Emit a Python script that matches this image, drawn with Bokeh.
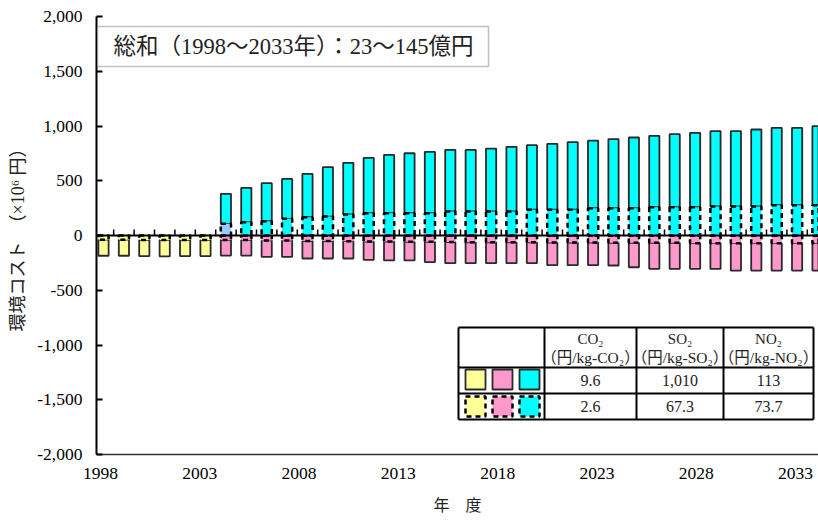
from bokeh.plotting import figure
from bokeh.models import Range1d, LinearAxis, FixedTicker, NumeralTickFormatter, Span, BoxAnnotation, Label
from bokeh.core.properties import value
from bokeh.embed import file_html
from bokeh.resources import INLINE

# ---------------- data ----------------
years = list(range(1998, 2034))
tick_years = [1998, 2003, 2008, 2013, 2018, 2023, 2028, 2033]

co2_years = list(range(1998, 2004))
co2_low = [-38, -38, -40, -40, -40, -40]
co2_high = [-185, -185, -188, -190, -188, -188]

gas_years = list(range(2004, 2034))
so2_low = [-40, -40, -45, -45, -50, -50, -52, -55, -55, -58, -58, -60, -62, -62, -62, -62,
           -65, -65, -65, -67, -67, -67, -67, -70, -70, -70, -70, -70, -70, -70]
so2_high = [-183, -183, -195, -195, -210, -210, -210, -222, -228, -228, -243, -253, -253, -253,
            -253, -253, -271, -271, -271, -274, -290, -304, -304, -304, -304, -320, -320, -320,
            -320, -320]
no2_low = [107, 122, 131, 152, 167, 173, 192, 204, 204, 204, 204, 219, 219, 219, 219, 235,
           235, 235, 249, 249, 249, 258, 258, 258, 265, 265, 265, 277, 277, 277]
no2_high = [381, 435, 478, 517, 563, 624, 664, 709, 737, 751, 764, 782, 782, 794, 810, 825,
            837, 852, 867, 881, 895, 910, 925, 938, 953, 953, 968, 983, 983, 998]

legend_gases = ["CO₂", "SO₂", "NO₂"]
legend_units = ["（円/kg-CO₂）", "（円/kg-SO₂）", "（円/kg-NO₂）"]
price_high = ["9.6", "1,010", "113"]
price_low = ["2.6", "67.3", "73.7"]
summary_text = "総和（1998～2033年）：23～145億円"
y_title = "環境コスト　（×10⁶ 円）"
x_title = "年　度"

# ---------------- styles / layout ----------------
YELLOW, PINK, CYAN = "#FFFF99", "#FF99CC", "#00FFFF"
FONT = "Liberation Serif, Noto Sans CJK JP"
W, H = 818, 522
BL, BT, BR, BB = 96, 16, 0, 68
FL, FT = BL, BT
FW, FH = W - BL - BR, H - BT - BB

XS = 1998 - 7 / 20.4
XE = XS + FW / 20.4
LS = 1998 - 4 / 19.857
LE = LS + FW / 19.857
YS, YE = -2000, 2000


def dx(px):
    return XS + (px - FL) / FW * (XE - XS)


def dy(py):
    return YE - (py - FT) / FH * (YE - YS)


p = figure(width=W, height=H, output_backend="svg", toolbar_location=None,
           x_range=Range1d(XS, XE), y_range=Range1d(YS, YE), x_axis_location=None,
           min_border_left=BL, min_border_right=BR, min_border_top=BT, min_border_bottom=BB)
p.outline_line_color = None
p.grid.grid_line_color = None
p.background_fill_color = "white"
p.border_fill_color = "white"

# y axis
ya = p.yaxis[0]
ya.ticker = FixedTicker(ticks=list(range(-2000, 2001, 500)))
ya.formatter = NumeralTickFormatter(format="0,0")
ya.major_tick_in = 6
ya.major_tick_out = 0
ya.minor_tick_line_color = None
ya.axis_line_width = 2
ya.major_tick_line_width = 2
ya.axis_line_color = "black"
ya.major_label_standoff = 14
ya.major_label_text_font = FONT
ya.major_label_text_font_size = "17.5px"
ya.major_label_text_color = "black"
ya.axis_label = y_title
ya.axis_label_text_font = FONT
ya.axis_label_text_font_size = "18px"
ya.axis_label_text_font_style = "normal"
ya.axis_label_text_color = "#222222"
ya.axis_label_standoff = 6

# x axis (category labels)
p.extra_x_ranges = {"lbl": Range1d(LS, LE)}
xa = LinearAxis(x_range_name="lbl", ticker=FixedTicker(ticks=tick_years))
xa.major_tick_in = 0
xa.major_tick_out = 0
xa.minor_tick_line_color = None
xa.axis_line_width = 1.5
xa.axis_line_color = "#333333"
xa.major_label_standoff = 13
xa.major_label_text_font = FONT
xa.major_label_text_font_size = "17.5px"
xa.major_label_text_color = "black"
xa.axis_label = x_title
xa.axis_label_text_font = FONT
xa.axis_label_text_font_size = "16px"
xa.axis_label_text_font_style = "normal"
xa.axis_label_text_color = "#222222"
xa.axis_label_standoff = 15
p.add_layout(xa, "below")

# ---------------- bars ----------------
BW = 0.5
SOLID = dict(line_color="#2a2a2a", line_width=1.8)
DASH = dict(line_color="black", line_width=2.5, line_dash="5 4")

p.vbar(x=co2_years, width=BW, bottom=co2_high, top=co2_low, fill_color=YELLOW, **SOLID)
p.vbar(x=co2_years, width=BW, bottom=co2_low, top=0, fill_color=YELLOW, **DASH)

p.vbar(x=gas_years, width=BW, bottom=so2_high, top=so2_low, fill_color=PINK, **SOLID)
p.vbar(x=gas_years, width=BW, bottom=so2_low, top=0, fill_color=PINK, **DASH)

no2_low_colors = ["#99CCFF"] + [CYAN] * (len(gas_years) - 1)
p.vbar(x=gas_years, width=BW, bottom=no2_low, top=no2_high, fill_color=CYAN, **SOLID)
p.vbar(x=gas_years, width=BW, bottom=0, top=no2_low, fill_color=no2_low_colors, **DASH)

# zero line with category tick marks
p.add_layout(Span(location=0, dimension="width", line_color="black", line_width=2))
bx = [y + 0.5 for y in years]
p.segment(x0=bx, y0=[0] * len(bx), x1=bx, y1=[55] * len(bx), line_color="black", line_width=1.5)

# ---------------- summary box ----------------
p.add_layout(BoxAnnotation(left=dx(97), right=dx(488), top=dy(26), bottom=dy(66),
                           fill_color="white", fill_alpha=1, line_color="#333333", line_width=1.5))
p.add_layout(Label(x=dx(293), y=dy(46), text=summary_text, text_align="center",
                   text_baseline="middle", text_font=FONT, text_font_size="22.5px",
                   text_color="#222222"))

# ---------------- legend table ----------------
cols = [458, 544, 636, 723, 813]
rows = [327, 367, 393, 419]
p.quad(left=dx(cols[0]), right=dx(cols[-1]), top=dy(rows[0]), bottom=dy(rows[-1]),
       fill_color="white", line_color=None)
p.segment(x0=[dx(cols[0])] * len(rows), x1=[dx(cols[-1])] * len(rows),
          y0=[dy(r) for r in rows], y1=[dy(r) for r in rows], line_color="black", line_width=2)
p.segment(x0=[dx(c) for c in cols], x1=[dx(c) for c in cols],
          y0=[dy(rows[0])] * len(cols), y1=[dy(rows[-1])] * len(cols), line_color="black", line_width=2)

ccx = [dx((cols[i] + cols[i + 1]) / 2) for i in range(1, 4)]
p.text(x=ccx, y=[dy(338)] * 3, text=legend_gases, text_align="center", text_baseline="middle",
       text_font=value(FONT), text_font_size="15px", text_color="#222222")
p.text(x=ccx, y=[dy(357)] * 3, text=legend_units, text_align="center", text_baseline="middle",
       text_font=value(FONT), text_font_size="15.5px", text_color="#222222")
p.text(x=ccx, y=[dy(380)] * 3, text=price_high, text_align="center", text_baseline="middle",
       text_font=value(FONT), text_font_size="16px", text_color="#222222")
p.text(x=ccx, y=[dy(406)] * 3, text=price_low, text_align="center", text_baseline="middle",
       text_font=value(FONT), text_font_size="16px", text_color="#222222")

swx = [dx(475), dx(502), dx(529)]
swc = [YELLOW, PINK, CYAN]
p.rect(x=swx, y=[dy(379)] * 3, width=20, height=20, width_units="screen", height_units="screen",
       fill_color=swc, line_color="#2a2a2a", line_width=1.8)
p.rect(x=swx, y=[dy(406)] * 3, width=20, height=20, width_units="screen", height_units="screen",
       fill_color=swc, line_color="black", line_width=2.5, line_dash="5 4")

open("out.html", "w").write(file_html(p, INLINE))
